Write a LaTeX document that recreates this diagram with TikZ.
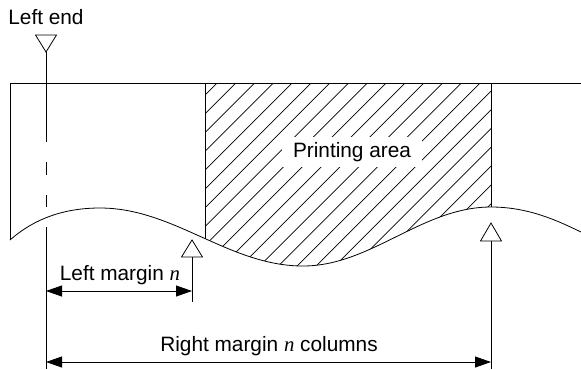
\documentclass[tikz,border=0pt]{standalone}
\usepackage{fontspec}
\setmainfont{Liberation Sans}
\newfontfamily\serifvar{Liberation Serif}
\usepackage{tikz}
\usetikzlibrary{arrows.meta, positioning}
\newcommand{\nvar}{{\serifvar\itshape n}}
% wave at the lower edge of the paper
\def\paperwave{(10,240) .. controls (35,218) and (65,208) .. (100,208)
  .. controls (174,208) and (229,266) .. (303,266)
  .. controls (371,266) and (422,207) .. (491,207)
  .. controls (530,207) and (560,222) .. (581,232)}

\begin{document}
\begin{tikzpicture}[x=1bp, y=-1bp, line width=0.8bp,
  font=\fontsize{20.8bp}{24bp}\selectfont,
  dim/.style={{Triangle[length=16bp,width=11bp]}-{Triangle[length=16bp,width=11bp]}},
  lbl/.style={inner sep=0pt, anchor=base},
  hatch/.style={line width=0.7bp}]
\useasboundingbox (0,0) rectangle (581,369);

% paper
\coordinate (tl) at (10,83);
\coordinate (tr) at (581,83);
\coordinate (bl) at (10,240);
\draw (bl) -- (tl) -- (tr);
\draw \paperwave;

% printing area
\begin{scope}
  \clip (205,83) rectangle (491,300);
  \clip (tl) -- \paperwave -- (tr) -- cycle;
  \foreach \k in {-1,...,25} {
    \pgfmathsetmacro\c{300+18.8*\k}
    \draw[hatch] (\c-300,300) -- (\c-83,83);
  }
\end{scope}
\coordinate (paL) at (205,83);
\coordinate (paR) at (491,83);
\draw (paL) -- (205,239);
\draw (paR) -- (491,207);
\node[fill=white, inner xsep=11bp, inner ysep=5bp] (area) at (352,152) {Printing area};

% left end
\node[lbl] (leftend) at (46,24) {Left end};
\coordinate (lendtip) at (46,52);
\draw (lendtip) -- ++(-10.5,-17) -- ++(21,0) -- cycle;
\draw (lendtip) -- (46,142);
\draw (46,162) -- (46,175);
\draw (46,195) -- (46,207);
\draw (46,227) -- (46,369);

% left margin
\coordinate (lmtip) at (192,240);
\draw (lmtip) -- ++(-10.5,17) -- ++(21,0) -- cycle;
\draw (192,257) -- (192,302);
\coordinate (lmA) at (46,291);
\coordinate (lmB) at (192,291);
\draw[dim] (lmA) -- (lmB);
\node[lbl] (lmlabel) at (120,280) {Left margin \nvar};

% right margin
\coordinate (rmtip) at (491,223);
\draw (rmtip) -- ++(-10.5,18) -- ++(21,0) -- cycle;
\draw (491,241) -- (491,369);
\coordinate (rmA) at (46,362);
\coordinate (rmB) at (491,362);
\draw[dim] (rmA) -- (rmB);
\node[lbl] (rmlabel) at (269,351) {Right margin \nvar\ columns};
\end{tikzpicture}
\end{document}
